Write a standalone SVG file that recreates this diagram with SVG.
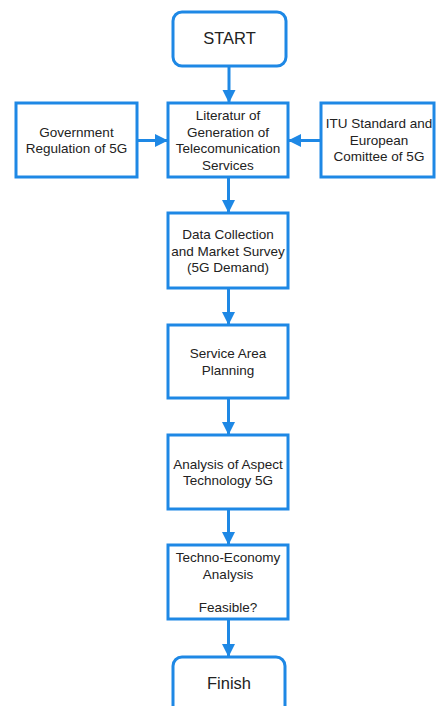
<svg xmlns="http://www.w3.org/2000/svg" width="436" height="706" viewBox="0 0 436 706">
<defs>
<style>
.box{fill:#fff;stroke:#1e88e5;stroke-width:3}
.t{font-family:"Liberation Sans",Arial,sans-serif;font-size:13.5px;fill:#222;text-anchor:middle}
.big{font-size:16.5px}
.ln{stroke:#1e88e5;stroke-width:3;fill:none}
</style>
<marker id="ah" markerUnits="userSpaceOnUse" markerWidth="14" markerHeight="14" viewBox="0 0 14 14" refX="13" refY="7" orient="auto">
<path d="M0,0.5 L13,7 L0,13.5 z" fill="#1e88e5"/>
</marker>
</defs>
<rect width="436" height="706" fill="#fff"/>
<g id="connectors">
<line class="ln" x1="229" y1="66" x2="229" y2="103" marker-end="url(#ah)"/>
<line class="ln" x1="137" y1="140.5" x2="168" y2="140.5" marker-end="url(#ah)"/>
<line class="ln" x1="321" y1="140.5" x2="288" y2="140.5" marker-end="url(#ah)"/>
<line class="ln" x1="228.5" y1="177" x2="228.5" y2="213" marker-end="url(#ah)"/>
<line class="ln" x1="228.5" y1="288" x2="228.5" y2="325" marker-end="url(#ah)"/>
<line class="ln" x1="228.5" y1="398" x2="228.5" y2="435" marker-end="url(#ah)"/>
<line class="ln" x1="228.5" y1="509" x2="228.5" y2="545" marker-end="url(#ah)"/>
<line class="ln" x1="228.5" y1="619" x2="228.5" y2="657" marker-end="url(#ah)"/>
</g>
<g id="start">
<rect class="box" x="173" y="12" width="113" height="54" rx="9"/>
<text class="t big" x="229.5" y="43.5">START</text>
</g>
<g id="gov">
<rect class="box" x="16" y="103" width="121" height="74"/>
<text class="t" x="76.5" y="136.5">Government</text>
<text class="t" x="76.5" y="153">Regulation of 5G</text>
</g>
<g id="lit">
<rect class="box" x="168" y="103" width="120" height="74"/>
<text class="t" x="228" y="120">Literatur of</text>
<text class="t" x="228" y="136.5">Generation of</text>
<text class="t" x="228" y="153">Telecomunication</text>
<text class="t" x="228" y="169.5">Services</text>
</g>
<g id="itu">
<rect class="box" x="321" y="103" width="113" height="74"/>
<text class="t" x="379" y="128">ITU Standard and</text>
<text class="t" x="379" y="144.5">European</text>
<text class="t" x="379" y="161">Comittee of 5G</text>
</g>
<g id="data">
<rect class="box" x="168" y="213" width="120" height="75"/>
<text class="t" x="228" y="239">Data Collection</text>
<text class="t" x="228" y="255.5">and Market Survey</text>
<text class="t" x="228" y="272">(5G Demand)</text>
</g>
<g id="service">
<rect class="box" x="168" y="325" width="120" height="73"/>
<text class="t" x="228" y="358">Service Area</text>
<text class="t" x="228" y="374.5">Planning</text>
</g>
<g id="analysis">
<rect class="box" x="168" y="435" width="120" height="74"/>
<text class="t" x="228" y="468.5">Analysis of Aspect</text>
<text class="t" x="228" y="485">Technology 5G</text>
</g>
<g id="techno">
<rect class="box" x="168" y="545" width="120" height="74"/>
<text class="t" x="228" y="562">Techno-Economy</text>
<text class="t" x="228" y="578.5">Analysis</text>
<text class="t" x="228" y="612">Feasible?</text>
</g>
<g id="finish">
<rect class="box" x="173" y="657" width="112" height="60" rx="9"/>
<text class="t big" x="229" y="688.5">Finish</text>
</g>
</svg>
